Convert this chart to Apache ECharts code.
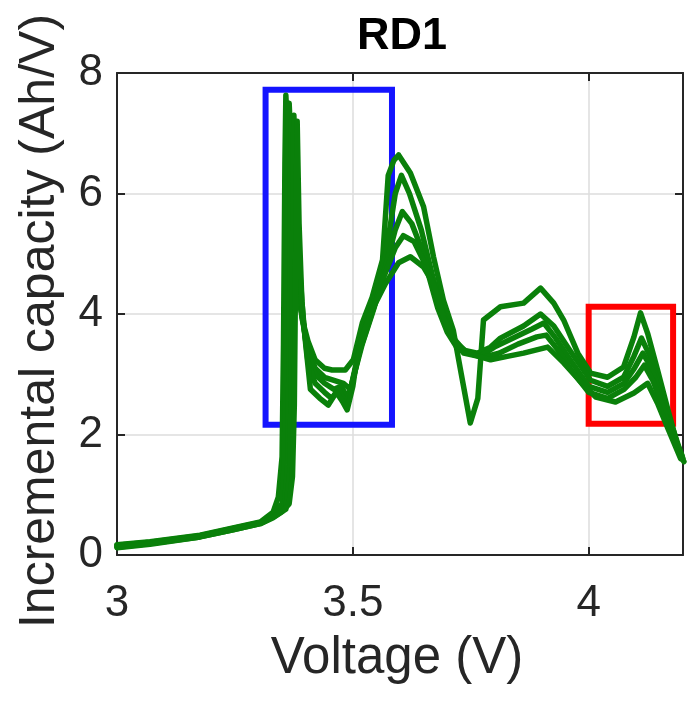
<!DOCTYPE html>
<html>
<head>
<meta charset="utf-8">
<script src="https://cdn.jsdelivr.net/npm/echarts@6/dist/echarts.min.js"></script>
<style>html,body{margin:0;padding:0;background:#fff}#c{width:693px;height:706px}</style>
</head>
<body>
<div id="c"></div>
<script>
// Voltage (V), incremental capacity (Ah/V) pairs, one array per cycle
var cycle1 = [[3.000,0.17],[3.070,0.22],[3.176,0.33],[3.246,0.45],[3.304,0.55],[3.331,0.71],[3.342,0.96],[3.350,1.63],[3.353,3.5],[3.356,6.5],[3.358,7.63],[3.363,6.8],[3.370,5.6],[3.380,4.6],[3.393,3.9],[3.405,3.55],[3.420,3.24],[3.440,3.10],[3.456,3.07],[3.484,3.07],[3.501,3.24],[3.520,3.85],[3.541,4.28],[3.563,4.9],[3.575,6.3],[3.587,6.55],[3.597,6.64],[3.622,6.34],[3.650,5.78],[3.671,4.95],[3.692,4.23],[3.713,3.73],[3.730,3.0],[3.749,2.19],[3.765,2.6],[3.777,3.9],[3.813,4.12],[3.862,4.18],[3.898,4.43],[3.926,4.18],[3.947,3.9],[3.977,3.35],[4.004,3.02],[4.040,2.95],[4.074,3.12],[4.096,3.62],[4.110,4.02],[4.125,3.68],[4.146,3.07],[4.168,2.41],[4.195,1.63],[4.202,1.55]];
var cycle2 = [[3.000,0.16],[3.070,0.21],[3.176,0.32],[3.246,0.44],[3.304,0.54],[3.331,0.68],[3.350,0.85],[3.355,1.6],[3.359,4.0],[3.362,7.0],[3.365,7.5],[3.370,6.6],[3.377,5.2],[3.388,4.2],[3.400,3.6],[3.420,3.1],[3.440,2.95],[3.460,2.9],[3.480,2.85],[3.495,2.75],[3.505,3.1],[3.525,3.75],[3.545,4.2],[3.570,5.0],[3.590,6.0],[3.603,6.3],[3.620,6.0],[3.645,5.4],[3.670,4.6],[3.692,4.0],[3.713,3.6],[3.735,3.4],[3.764,3.35],[3.792,3.45],[3.813,3.6],[3.862,3.8],[3.898,4.0],[3.926,3.8],[3.960,3.4],[4.004,2.9],[4.040,2.8],[4.074,2.95],[4.096,3.3],[4.112,3.6],[4.130,3.3],[4.150,2.8],[4.170,2.3],[4.195,1.7]];
var cycle3 = [[3.000,0.14],[3.070,0.20],[3.176,0.31],[3.246,0.43],[3.304,0.53],[3.331,0.65],[3.355,0.8],[3.362,1.5],[3.366,4.0],[3.369,7.2],[3.373,6.8],[3.379,5.4],[3.390,4.1],[3.403,3.4],[3.420,3.0],[3.440,2.85],[3.460,2.75],[3.475,2.8],[3.490,2.6],[3.503,3.0],[3.520,3.5],[3.545,4.1],[3.570,4.8],[3.590,5.4],[3.605,5.7],[3.625,5.5],[3.650,5.0],[3.675,4.3],[3.695,3.85],[3.715,3.55],[3.740,3.38],[3.770,3.3],[3.800,3.45],[3.840,3.6],[3.880,3.75],[3.905,3.85],[3.930,3.6],[3.960,3.25],[4.000,2.8],[4.040,2.7],[4.075,2.85],[4.097,3.1],[4.115,3.35],[4.133,3.1],[4.152,2.65],[4.172,2.15],[4.198,1.65]];
var cycle4 = [[3.000,0.13],[3.070,0.19],[3.176,0.30],[3.246,0.42],[3.304,0.52],[3.331,0.63],[3.358,0.76],[3.367,1.4],[3.371,4.0],[3.375,7.3],[3.379,6.5],[3.385,5.0],[3.395,3.9],[3.405,3.2],[3.420,2.85],[3.440,2.7],[3.455,2.6],[3.470,2.75],[3.485,2.5],[3.500,2.9],[3.515,3.4],[3.540,4.0],[3.565,4.6],[3.590,5.1],[3.607,5.3],[3.630,5.2],[3.655,4.8],[3.680,4.1],[3.700,3.7],[3.720,3.45],[3.745,3.35],[3.775,3.28],[3.810,3.35],[3.850,3.5],[3.890,3.62],[3.910,3.65],[3.935,3.4],[3.965,3.05],[4.000,2.7],[4.040,2.6],[4.075,2.75],[4.100,2.95],[4.118,3.15],[4.136,2.9],[4.155,2.5],[4.175,2.05],[4.200,1.6]];
var cycle5 = [[3.000,0.12],[3.070,0.18],[3.176,0.30],[3.246,0.42],[3.304,0.52],[3.331,0.62],[3.350,0.72],[3.365,0.85],[3.372,1.3],[3.376,2.5],[3.379,5.0],[3.382,7.2],[3.386,5.5],[3.392,4.2],[3.400,3.5],[3.410,2.75],[3.430,2.6],[3.448,2.49],[3.465,2.7],[3.478,2.55],[3.488,2.41],[3.500,2.8],[3.505,3.07],[3.520,3.62],[3.541,4.07],[3.569,4.5],[3.597,4.85],[3.622,4.95],[3.650,4.78],[3.671,4.5],[3.692,3.95],[3.713,3.57],[3.735,3.35],[3.764,3.3],[3.792,3.24],[3.830,3.3],[3.862,3.35],[3.913,3.45],[3.947,3.19],[3.980,2.9],[4.015,2.62],[4.057,2.54],[4.096,2.69],[4.125,2.85],[4.146,2.52],[4.168,2.1],[4.195,1.6]];
var cycles = [cycle1, cycle2, cycle3, cycle4, cycle5];

var xTicks = [3, 3.5, 4];
var yTicks = [0, 2, 4, 6, 8];
// Highlight boxes [[v1, ic1], [v2, ic2]]
var blueBox = [[3.315, 7.72], [3.583, 2.16]];
var redBox = [[4.0, 4.12], [4.179, 2.18]];

var FONT = 'Liberation Sans, Arial, Helvetica, sans-serif';
var AX = '#262626';

var chart = echarts.init(document.getElementById('c'), null, {renderer: 'canvas'});
var series = cycles.map(function (c) {
  return {
    type: 'line', data: c, showSymbol: false, smooth: false,
    lineStyle: {color: '#0a800a', width: 5.5, join: 'round', cap: 'round'},
    z: 2, animation: false
  };
});
function box(b, color) {
  return {
    type: 'line', data: [], z: 10, animation: false,
    markArea: {
      silent: true,
      itemStyle: {color: 'rgba(0,0,0,0)', borderColor: color, borderWidth: 6},
      data: [[{coord: b[0]}, {coord: b[1]}]]
    }
  };
}
series.push(box(blueBox, '#1414ff'));
series.push(box(redBox, '#ff0000'));

var tickFmt = function (v) { return xTicks.indexOf(Math.round(v * 10) / 10) >= 0 ? String(v) : ''; };

chart.setOption({
  animation: false,
  backgroundColor: '#fff',
  title: {
    text: 'RD1', left: 397, top: 9, textAlign: 'center',
    textStyle: {fontFamily: FONT, fontWeight: 'bold', fontSize: 45, color: '#000'}
  },
  grid: {left: 117, right: 10, top: 73, bottom: 151},
  xAxis: [{
    type: 'value', min: 3, max: 4.2, interval: 0.5, position: 'bottom',
    name: 'Voltage (V)', nameLocation: 'middle', nameGap: 78,
    nameTextStyle: {fontFamily: FONT, fontSize: 51, color: AX, padding: [0, 6, 0, 0]},
    axisLine: {show: true, onZero: false, lineStyle: {color: AX, width: 2}},
    axisTick: {show: true, inside: true, length: 8, lineStyle: {color: AX, width: 2}},
    axisLabel: {fontFamily: FONT, fontSize: 44, color: AX, margin: 27, showMaxLabel: false, formatter: tickFmt},
    splitLine: {show: true, lineStyle: {color: '#dcdcdc', width: 1.5}}
  }, {
    type: 'value', min: 3, max: 4.2, interval: 0.5, position: 'top',
    axisLine: {show: true, onZero: false, lineStyle: {color: AX, width: 2}},
    axisTick: {show: true, inside: true, length: 8, lineStyle: {color: AX, width: 2}},
    axisLabel: {show: false}, splitLine: {show: false}
  }],
  yAxis: [{
    type: 'value', min: 0, max: 8, interval: 2, position: 'left',
    name: 'Incremental capacity (Ah/V)', nameLocation: 'middle', nameGap: 52, nameRotate: 90,
    nameTextStyle: {fontFamily: FONT, fontSize: 50, color: AX, padding: [0, 14, 0, 0]},
    axisLine: {show: true, onZero: false, lineStyle: {color: AX, width: 2}},
    axisTick: {show: true, inside: true, length: 8, lineStyle: {color: AX, width: 2}},
    axisLabel: {fontFamily: FONT, fontSize: 44, color: AX, margin: 14},
    splitLine: {show: true, lineStyle: {color: '#dcdcdc', width: 1.5}}
  }, {
    type: 'value', min: 0, max: 8, interval: 2, position: 'right',
    axisLine: {show: true, onZero: false, lineStyle: {color: AX, width: 2}},
    axisTick: {show: true, inside: true, length: 8, lineStyle: {color: AX, width: 2}},
    axisLabel: {show: false}, splitLine: {show: false}
  }],
  series: series
});
</script>
</body>
</html>
